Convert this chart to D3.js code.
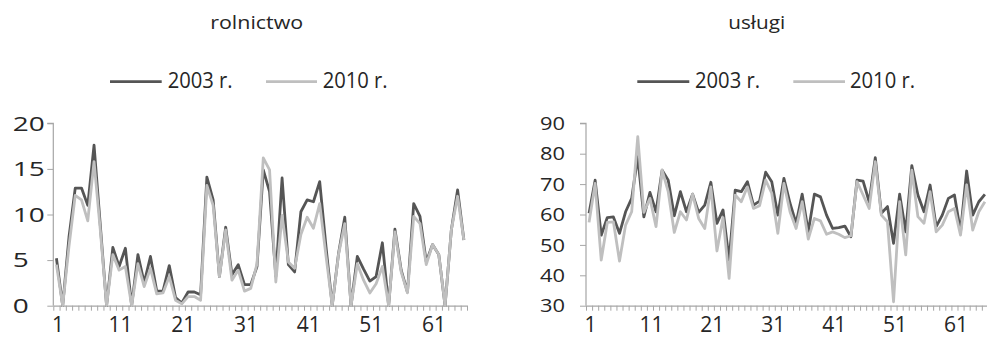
<!DOCTYPE html>
<html><head><meta charset="utf-8">
<script src="https://cdn.jsdelivr.net/npm/d3@7"></script>
<style>
body{margin:0;background:#fff;}
text{font-family:"Open Sans",sans-serif;fill:#262626;}
</style></head>
<body><svg id="c" width="987" height="340"></svg>
<script>
const categories = d3.range(1, 67);
const xTickLabels = [1, 11, 21, 31, 41, 51, 61];
const seriesNames = ["2003 r.", "2010 r."];
const panelTitles = ["rolnictwo", "usługi"];

const rolnictwo2003 = [5.2,0,7.5,12.9,12.9,11.0,17.6,8.8,0,6.4,4.3,6.3,0,5.6,2.5,5.4,1.6,1.6,4.4,0.9,0.3,1.5,1.5,1.2,14.1,11.6,3.2,8.6,3.4,4.5,2.3,2.3,4.3,14.9,12.5,3.2,14.0,4.5,3.7,10.3,11.6,11.4,13.6,6.5,0,5.7,9.7,0,5.4,4.0,2.7,3.2,6.9,0,8.4,3.9,1.5,11.2,9.8,4.8,6.7,5.6,0,8.3,12.7,7.2];
const rolnictwo2010 = [4.5,0,6.5,12.1,11.6,9.3,15.8,8.3,0,5.6,3.9,4.3,0,4.6,2.1,4.1,1.3,1.4,3.2,0.6,0.2,1.0,1.0,0.6,13.2,11.0,3.2,8.3,2.8,3.9,1.6,1.9,4.6,16.2,14.9,2.6,9.9,4.8,4.1,7.8,9.7,8.5,11.2,5.5,0,5.6,9.0,0,4.6,2.8,1.4,2.4,4.3,0,8.1,3.7,1.4,9.8,9.0,4.5,6.7,5.6,0,8.3,12.0,7.2];
const uslugi2003 = [60.4,71.3,53.2,59.0,59.2,53.8,60.9,65.3,79.0,59.2,67.3,60.9,74.6,71.3,59.6,67.5,60.9,66.7,60.7,63.1,70.6,57.1,61.5,45.0,68.0,67.5,70.8,63.1,64.4,73.9,70.8,59.8,71.9,63.7,57.1,66.7,54.3,66.7,65.8,59.8,55.4,55.7,56.2,52.7,71.3,71.0,64.2,78.7,60.4,62.6,50.5,66.7,54.3,76.1,66.4,60.9,69.7,56.0,59.8,65.3,66.4,54.3,74.3,59.8,64.2,66.6];
const uslugi2010 = [57.4,70.2,45.0,57.4,57.6,44.7,56.5,60.9,85.6,60.7,65.3,56.0,74.6,67.5,54.1,60.9,58.2,66.7,58.7,55.4,69.1,48.0,59.0,39.0,66.4,64.2,69.1,62.0,62.9,71.3,67.0,53.8,70.2,60.9,55.4,64.2,51.9,58.7,57.9,53.5,54.3,53.5,52.4,53.0,70.8,66.4,62.0,77.4,59.8,57.6,31.3,64.2,46.7,74.6,59.3,57.1,67.5,54.3,56.5,60.9,62.0,53.2,69.7,54.9,60.9,64.2];
const rolnictwoYTicks = [0, 5, 10, 15, 20];
const uslugiYTicks = [30, 40, 50, 60, 70, 80, 90];

const colors = ["#555555", "#bfbfbf"];
const axisColor = "#a6a6a6";
const svg = d3.select("#c");

const panels = [
  {title: panelTitles[0], s: [rolnictwo2003, rolnictwo2010], yDom: [0, 20], yTicks: rolnictwoYTicks,
   x0: 53.3, x1: 467, titleX: 256.7, titleLen: 93,
   leg: [{l0: 110, l1: 161.7, tx: 167.7}, {l0: 266, l1: 317, tx: 322.7}],
   yLab: {anchor: "start", x: 12.7, size: 20, perDigit: 16}},
  {title: panelTitles[1], s: [uslugi2003, uslugi2010], yDom: [30, 90], yTicks: uslugiYTicks,
   x0: 586, x1: 586 + 66 * 6.09, titleX: 756.7, titleLen: 57,
   leg: [{l0: 637.3, l1: 689.3, tx: 695}, {l0: 793.3, l1: 845, tx: 850}],
   yLab: {anchor: "end", x: 565, size: 18.5, perDigit: 12.5}}
];
const yTop = 123.3, yBot = 305.7;

panels.forEach(p => {
  const g = svg.append("g");
  const x = d3.scaleLinear().domain([0.5, categories.length + 0.5]).range([p.x0, p.x1]);
  const y = d3.scaleLinear().domain(p.yDom).range([yBot, yTop]);

  // title
  g.append("text").attr("x", p.titleX).attr("y", 29.3).attr("text-anchor", "middle")
    .attr("font-size", 19).attr("textLength", p.titleLen).attr("lengthAdjust", "spacingAndGlyphs")
    .text(p.title);

  // legend
  seriesNames.forEach((name, i) => {
    const L = p.leg[i];
    g.append("line").attr("x1", L.l0).attr("x2", L.l1).attr("y1", 81.7).attr("y2", 81.7)
      .attr("stroke", colors[i]).attr("stroke-width", 2.8);
    g.append("text").attr("x", L.tx).attr("y", 88.3).attr("font-size", 21)
      .attr("textLength", 65).attr("lengthAdjust", "spacingAndGlyphs").text(name);
  });

  // y axis
  const ya = g.append("g").attr("transform", `translate(${p.x0},0)`)
    .call(d3.axisLeft(y).tickValues(p.yTicks).tickSize(6).tickFormat(""));
  ya.selectAll("path,line").attr("stroke", axisColor);
  ya.select("path").attr("d", `M-6,${yTop}H0V${yBot}`).attr("stroke-width", 1.2);
  g.selectAll(".ylab").data(p.yTicks).join("text").attr("class", "ylab")
    .attr("x", p.yLab.x).attr("y", d => y(d)).attr("dy", "0.36em")
    .attr("text-anchor", p.yLab.anchor).attr("font-size", p.yLab.size)
    .attr("textLength", d => String(d).length * p.yLab.perDigit).attr("lengthAdjust", "spacingAndGlyphs")
    .text(d => d);

  // x axis with category boundary ticks
  const bounds = d3.range(0, categories.length + 1).map(k => k + 0.5);
  const xa = g.append("g").attr("transform", `translate(0,${yBot})`)
    .call(d3.axisBottom(x).tickValues(bounds).tickSize(5).tickSizeOuter(0).tickFormat(""));
  xa.selectAll("path,line").attr("stroke", axisColor);
  xa.select("path").attr("stroke-width", 1.2);
  g.selectAll(".xlab").data(xTickLabels).join("text").attr("class", "xlab")
    .attr("x", d => x(d) + 1.5).attr("y", 331.7).attr("text-anchor", "middle")
    .attr("font-size", 21).text(d => d);

  // lines
  const line = d3.line().x((d, i) => x(categories[i])).y(d => y(d));
  p.s.forEach((vals, i) => {
    g.append("path").datum(vals).attr("d", line).attr("fill", "none")
      .attr("stroke", colors[i]).attr("stroke-width", 2.8).attr("stroke-linejoin", "round");
  });
});
</script></body></html>
